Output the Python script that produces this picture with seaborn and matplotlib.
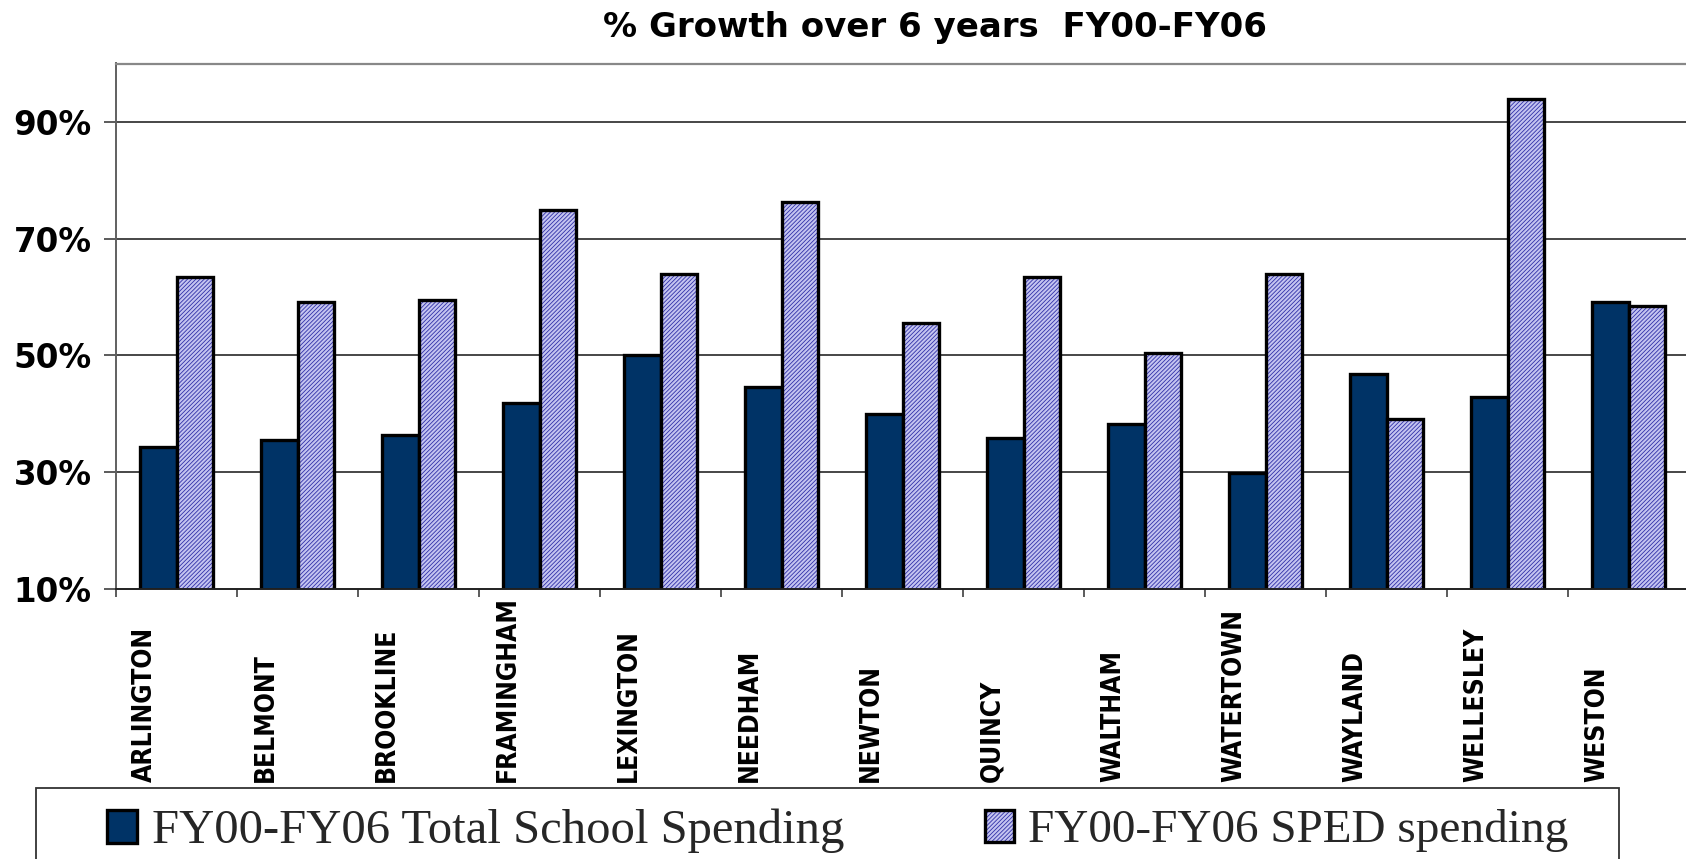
import matplotlib
matplotlib.use("Agg")
import matplotlib.pyplot as plt
import matplotlib.colors as mcolors
from matplotlib.patches import Rectangle
import seaborn as sns
import pandas as pd

# ---- data ----
towns = ["ARLINGTON", "BELMONT", "BROOKLINE", "FRAMINGHAM", "LEXINGTON", "NEEDHAM",
         "NEWTON", "QUINCY", "WALTHAM", "WATERTOWN", "WAYLAND", "WELLESLEY", "WESTON"]
total_spending = [34.3, 35.6, 36.3, 41.8, 50.1, 44.6, 40.0, 35.9, 38.3, 29.9, 46.8, 42.9, 59.1]
sped_spending = [63.5, 59.1, 59.5, 74.9, 63.9, 76.2, 55.6, 63.5, 50.5, 63.9, 39.1, 94.0, 58.4]
series_names = ["FY00-FY06 Total School Spending", "FY00-FY06 SPED spending"]
y_ticks = [10, 30, 50, 70, 90]
y_tick_labels = ["10%", "30%", "50%", "70%", "90%"]
title = "% Growth over 6 years  FY00-FY06"

df = pd.DataFrame({
    "town": towns * 2,
    "series": [series_names[0]] * len(towns) + [series_names[1]] * len(towns),
    "value": total_spending + sped_spending,
})

sns.set_theme(style="white")
plt.rcParams["hatch.linewidth"] = 0.6

W, H = 1686, 859
fig = plt.figure(figsize=(W / 100, H / 100), dpi=100)
ax_left, ax_right, ax_top, ax_bottom = 116, 1689, 63.5, 589
ax = fig.add_axes([ax_left / W, 1 - ax_bottom / H, (ax_right - ax_left) / W, (ax_bottom - ax_top) / H])

navy = "#003366"
lav = "#c4c4f0"
sns.barplot(data=df, x="town", y="value", hue="series", order=towns, hue_order=series_names,
            palette=[navy, lav], width=0.6, saturation=1, edgecolor="black", linewidth=2.4,
            legend=False, ax=ax)

hatch_rgba = mcolors.to_rgba("#3030a8")
for bar in ax.containers[1]:
    bar.set_hatch("////////")
    bar._hatch_color = hatch_rgba

ax.set_ylim(10, 100)
ax.set_xlim(-0.5, len(towns) - 0.5)
ax.set_yticks(y_ticks)
ax.set_yticklabels(y_tick_labels)
ax.set_xlabel("")
ax.set_ylabel("")

# grid
ax.grid(False)
for v in y_ticks[1:]:
    ax.axhline(v, color="#383838", lw=1.3, zorder=0.5)

# x ticks: marks at group boundaries, labels slightly left of group centres
ax.set_xticks([i - 0.26 for i in range(len(towns))])
ax.set_xticklabels(towns)
ax.set_xticks([i - 0.5 for i in range(len(towns) + 1)], minor=True)
ax.tick_params(axis="x", which="major", length=0, pad=139)
ax.tick_params(axis="x", which="minor", bottom=True, length=6, width=1.2, color="#404040", direction="out")
for lab in ax.get_xticklabels():
    lab.set_rotation(90)
    lab.set_verticalalignment("bottom")
    lab.set_horizontalalignment("center")
    lab.set_family(["DejaVu Sans"])
    lab.set_fontstretch("condensed")
    lab.set_fontweight("bold")
    lab.set_fontsize(19)
    lab.set_color("black")

ax.tick_params(axis="y", which="major", left=True, length=8.6, width=1.2, color="#404040",
               direction="out", pad=9)
for lab in ax.get_yticklabels():
    lab.set_family(["DejaVu Sans"])
    lab.set_fontweight("bold")
    lab.set_fontsize(23.5)
    lab.set_color("black")

# spines
ax.spines["right"].set_visible(False)
ax.spines["top"].set_color("#888888")
ax.spines["top"].set_linewidth(1.6)
ax.spines["left"].set_color("#606060")
ax.spines["left"].set_linewidth(1.4)
ax.spines["bottom"].set_color("#202020")
ax.spines["bottom"].set_linewidth(1.4)

# title
fig.text(935 / W, 1 - 27 / H, title, ha="center", va="center",
         fontsize=24.5, fontweight="bold", family=["DejaVu Sans"], color="black")

# legend frame (extends below the figure edge)
fig.add_artist(Rectangle((36 / W, -0.2), (1619 - 36) / W, 0.2 + (1 - 788 / H),
                         transform=fig.transFigure, fill=False, edgecolor="#333333",
                         linewidth=1.3, clip_on=False))

leg_kw = dict(loc="center left", frameon=False, borderpad=0, borderaxespad=0,
              handlelength=0.62, handleheight=0.66, handletextpad=0.3,
              prop={"family": ["Liberation Serif", "DejaVu Serif"], "size": 35})
fig.legend([ax.containers[0]], [series_names[0]], bbox_to_anchor=(107 / W, 1 - 831 / H), **leg_kw)
fig.legend([ax.containers[1]], [series_names[1]], bbox_to_anchor=(985 / W, 1 - 831 / H),
           **{**leg_kw, "prop": {"family": ["Liberation Serif", "DejaVu Serif"], "size": 34}})

fig.savefig("out.png", dpi=100)
